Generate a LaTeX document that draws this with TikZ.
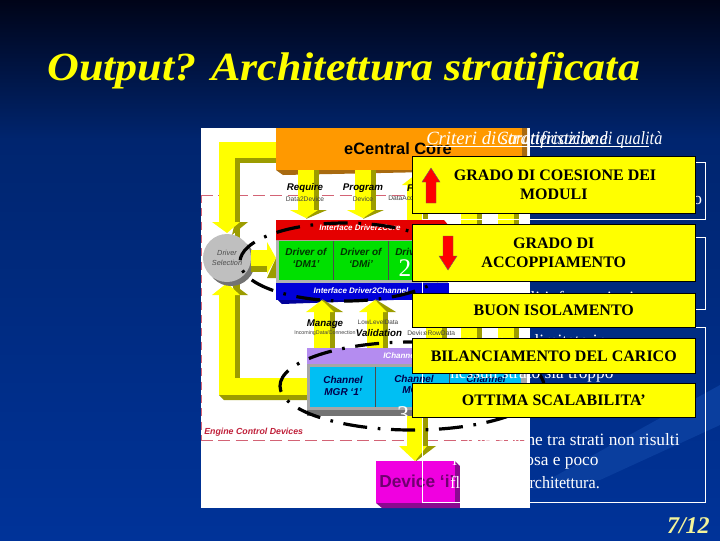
\documentclass[tikz,border=0pt]{standalone}
\usepackage{fontspec}
\setmainfont{Liberation Serif}
\setsansfont{Liberation Sans}
\definecolor{ybox}{HTML}{FFFF00}
\definecolor{oliv}{HTML}{9C9C00}
\definecolor{orng}{HTML}{FF9900}
\definecolor{orngd}{HTML}{A86A10}
\definecolor{grn}{HTML}{00E000}
\definecolor{cyn}{HTML}{00BFF3}
\definecolor{purp}{HTML}{B48CF0}
\definecolor{magn}{HTML}{F000E0}
\definecolor{magd}{HTML}{8A0A90}
\definecolor{devt}{HTML}{700070}
\definecolor{dred}{HTML}{C0203A}
\definecolor{bgtop}{HTML}{000418}
\definecolor{bgmid}{HTML}{00256F}
\definecolor{bgbot}{HTML}{003399}
\definecolor{band}{HTML}{0A3E9E}
\definecolor{pgno}{HTML}{F4F49A}
\tikzset{x=0.75pt,y=-0.75pt,
 fatline/.style={fill=ybox,draw=none},
 shade3/.style={fill=oliv,draw=none},
 ybx/.style={fill=ybox,draw=black,line width=0.8pt},
 yellowlabel/.style={font=\fontsize{12}{14.5}\selectfont\bfseries,align=center,text=black},
 tiny1/.style={font=\sffamily\fontsize{5}{6}\selectfont,text=black!75},
 lay/.style={font=\sffamily\bfseries\itshape\fontsize{7.5}{8.5}\selectfont,align=center,text=black!80},
 iface/.style={font=\sffamily\bfseries\itshape\fontsize{6}{7}\selectfont,text=white},
 opname/.style={font=\sffamily\bfseries\itshape\fontsize{7.3}{9}\selectfont,text=black},
 bodyt/.style={font=\fontsize{13}{16}\selectfont,text=white,anchor=west,inner sep=0pt},
 panel/.style={draw=white,line width=0.7pt},
 oval/.style={draw=black,line width=2.4pt,dash pattern=on 18pt off 8pt on 2pt off 8pt}
}
\newcommand{\fatdown}[4]{%
 \fill[shade3] (#1+8,#2) rectangle (#1+13,#3);
 \fill[shade3] (#1+8,#3) -- (#1+21,#3) -- (#1,#4) -- cycle;
 \fill[fatline] (#1-8,#2) rectangle (#1+8,#3);
 \fill[fatline] (#1-16,#3) -- (#1+12,#3) -- (#1,#4-1) -- cycle;}
\newcommand{\fatup}[4]{%
 \fill[shade3] (#1+8,#2) rectangle (#1+13,#3);
 \fill[shade3] (#1+8,#3) -- (#1+21,#3) -- (#1,#4) -- cycle;
 \fill[fatline] (#1-8,#2) rectangle (#1+8,#3);
 \fill[fatline] (#1-16,#3) -- (#1+12,#3) -- (#1,#4+1) -- cycle;}
\begin{document}
\begin{tikzpicture}
\useasboundingbox (0,0) rectangle (720,540);
\shade[top color=bgtop,bottom color=bgmid] (0,0) rectangle (720,140);
\shade[top color=bgmid,bottom color=bgbot] (0,140) rectangle (720,540);
\fill[band] (530,490) -- (720,385) -- (720,425) -- (600,480) -- cycle;

% title
\node[anchor=base west,inner sep=0pt,text=ybox,xscale=1.1,font=\fontsize{30}{32}\selectfont\bfseries\itshape] (title) at (47,80) {Output? Architettura stratificata};

% picture on a white sheet
\fill[white] (201,128) rectangle (530,508);

% red dashed region
\draw[dred!70,line width=0.7pt,dash pattern=on 9pt off 4pt] (201,195) -- (530,195);
\draw[dred!70,line width=0.7pt,dash pattern=on 9pt off 4pt] (201,440) -- (530,440);
\draw[dred!70,line width=0.7pt,dash pattern=on 6pt off 4pt] (201,195) -- (201,440);

% left yellow loop
\fill[shade3] (235,158) rectangle (240,378);
\fill[shade3] (219,395) -- (307,395) -- (307,400) -- (224,400) -- cycle;
\fill[shade3] (240,158) -- (276,158) -- (276,163) -- (240,163) -- cycle;
\fill[fatline] (219,142) rectangle (276,158);
\fill[fatline] (219,142) rectangle (235,222);
\fill[shade3] (235,222) -- (248,222) -- (232,235) -- cycle;
\fill[fatline] (212,222) -- (240,222) -- (227,233) -- cycle;
\fill[fatline] (219,295) rectangle (235,395);
\fill[fatline] (219,378) rectangle (307,395);
\fill[shade3] (235,295) -- (248,295) -- (232,283) -- cycle;
\fill[fatline] (212,295) -- (240,295) -- (227,283) -- cycle;

% top core
\fill[orngd] (276,128) -- (527,128) -- (527,170) -- (283,175) -- (276,170) -- cycle;
\fill[orng] (276,128) rectangle (522,170);
\node[font=\sffamily\bfseries\fontsize{12.3}{14}\selectfont,text=black,inner sep=0pt] (core) at (398,149) {eCentral Core};

% arrows core -> driver layer
\fatdown{306}{170}{210}{219}
\fatdown{363}{170}{210}{219}
\fill[shade3] (423,175) rectangle (428,240);
\fill[fatline] (407,185) rectangle (423,240);
\fill[fatline] (402,185) -- (428,185) -- (415,175) -- cycle;
\fill[shade3] (477,170) rectangle (482,238);
\fill[fatline] (461,170) rectangle (477,238);
\fill[shade3] (514,170) rectangle (519,238);
\fill[fatline] (498,170) rectangle (514,238);
\node[opname] (req) at (305,188) {Require};
\node[opname] (prog) at (363,188) {Program};
\node[tiny1] (d2d) at (305,199) {Data2Device};
\node[tiny1] (dev) at (363,199) {Device};
\node[tiny1,anchor=west,inner sep=0pt] (dac) at (388,199) {DataAcq};
\node[opname] (pf) at (410,188) {F};

% driver selection disc
\fill[black!55] (231,262) circle (24);
\fill[black!25] (227,258) circle (24);
\node[font=\sffamily\itshape\fontsize{5.5}{7}\selectfont,align=center,text=black!70,inner sep=0pt] (sel) at (227,258) {Driver\\Selection};
\fill[shade3] (251,265) rectangle (268,272);
\fill[fatline] (251,250) rectangle (268,266);
\fill[shade3] (267,278) -- (276,278) -- (276,258) -- cycle;
\fill[fatline] (267,242) -- (267,274) -- (276,258) -- cycle;

% driver layer
\fill[black!30] (276,238) rectangle (448,284);
\fill[red!90!black] (276,220) -- (444,220) -- (449,226) -- (449,240) -- (276,240) -- cycle;
\fill[grn] (279,241) rectangle (443,280);
\draw[black!70,line width=0.4pt] (333,241) -- (333,280) (388,241) -- (388,280);
\node[lay,text=green!20!black] (d1) at (306,258) {Driver of\\`DM1'};
\node[lay,text=green!20!black] (d2) at (361,258) {Driver of\\`DMi'};
\node[lay,text=green!20!black,anchor=west,inner sep=0pt] (d3) at (395,252) {Driver};
\node[font=\fontsize{19}{21}\selectfont,text=white,inner sep=0pt] (two) at (405,268) {2};
\fill[blue!60!black] (276,290) -- (444,290) -- (449,298) -- (282,304) -- (276,298) -- cycle;
\fill[blue!85!black] (276,283) rectangle (449,300);
\node[iface] (i1) at (360,227.5) {Interface Driver2Core};
\node[iface] (i2) at (361,290.5) {Interface Driver2Channel};

% arrows driver <- channel
\fatup{322}{348}{312}{299}
\fatup{375}{348}{312}{299}
\fill[shade3] (442,300) rectangle (447,348);
\fill[fatline] (426,300) rectangle (442,348);
\fill[shade3] (477,300) rectangle (482,348);
\fill[fatline] (461,300) rectangle (477,348);
\fill[shade3] (514,300) rectangle (519,348);
\fill[fatline] (498,300) rectangle (514,348);
\node[opname] (man) at (325,324) {Manage};
\node[tiny1,font=\sffamily\fontsize{4}{5}\selectfont] (inc) at (325,333) {IncomingData/Connection};
\node[tiny1,font=\sffamily\fontsize{4.8}{5}\selectfont] (low) at (378,322) {LowLevelData};
\node[opname] (val) at (379,333) {Validation};
\node[tiny1,anchor=west,inner sep=0pt] (drd) at (407,333) {DeviceRowData};

% channel layer
\fill[black!55] (307,400) rectangle (527,416);
\fill[black!35] (307,348) rectangle (527,410);
\fill[purp] (307,348) rectangle (527,364);
\fill[cyn] (310,367) rectangle (521,407);
\draw[black!70,line width=0.4pt] (375,367) -- (375,407) (449,367) -- (449,407);
\node[lay,text=blue!30!black] (c1) at (343,386) {Channel\\MGR `1'};
\node[lay,text=blue!30!black,anchor=north west,inner sep=0pt] (c2) at (394,375) {Channel\\MGR};
\node[lay,text=blue!30!black,anchor=north west,inner sep=0pt] (c3) at (466,375) {Channel};
\node[iface,anchor=west,inner sep=0pt] (i3) at (383,356) {IChannel};
\node[font=\fontsize{18}{20}\selectfont,text=white,inner sep=0pt] (three) at (403,415) {3};

% down to device
\fatdown{415}{416}{446}{462}

% device
\fill[magd] (376,461) -- (455,461) -- (460,466) -- (460,508) -- (382,508) -- (376,503) -- cycle;
\fill[magn] (376,461) rectangle (455,503);
\node[font=\sffamily\bfseries\fontsize{13}{15}\selectfont,text=devt,anchor=west,inner sep=0pt] (devi) at (379,481) {Device `i'};
\fill[white] (460,440.5) rectangle (530,508);
\node[font=\sffamily\bfseries\itshape\fontsize{6.6}{8}\selectfont,text=dred,anchor=west,inner sep=0pt] (ecd) at (204,432) {Engine Control Devices};

% dash-dot ovals
\draw[oval] (345,262) ellipse (105 and 39);
\draw[oval] (412,386) ellipse (132 and 44);

% overprinted headings
\node[anchor=base west,inner sep=0pt,text=white,font=\fontsize{14}{16}\selectfont\itshape] (h1) at (426,144) {Criteri di stratificazione};
\node[anchor=base west,inner sep=0pt,text=white,xscale=0.87,font=\fontsize{14}{16}\selectfont\itshape] (h2) at (497,144) {Caratteristiche di qualità};
\draw[white,line width=0.7pt] (426,146) -- (649,146);

% text panels
\draw[panel] (422,162) rectangle (705,219);
\draw[panel] (422,237) rectangle (705,309);
\draw[panel] (422,327) rectangle (705,502);
\node[bodyt] (b0) at (693,200) {o};
\node[bodyt] (b1) at (462,297) {che i livelli informazioni};
\node[bodyt] (b2) at (450,341) {il carico sia limitato in};
\node[bodyt] (b3) at (450,375) {nessun strato sia troppo};
\node[bodyt] (b4) at (455,440) {l'interazione tra strati non risulti};
\node[bodyt] (b5) at (452,461) {lenta, onerosa e poco};
\node[bodyt,xscale=0.93] (b6) at (450,483) {flessibile l'architettura.};

% yellow boxes
\node[ybx,minimum width=283.5*0.75pt,minimum height=57*0.75pt,inner sep=0pt,yellowlabel,anchor=north west] (y1) at (411.5,156) {\hspace*{2pt}GRADO DI COESIONE DEI\\MODULI};
\node[ybx,minimum width=283.5*0.75pt,minimum height=57*0.75pt,inner sep=0pt,yellowlabel,anchor=north west] (y2) at (411.5,224) {GRADO DI\\ACCOPPIAMENTO};
\node[ybx,minimum width=283.5*0.75pt,minimum height=33.5*0.75pt,inner sep=0pt,yellowlabel,anchor=north west] (y3) at (411.5,293) {BUON ISOLAMENTO};
\node[ybx,minimum width=283.5*0.75pt,minimum height=34.5*0.75pt,inner sep=0pt,yellowlabel,anchor=north west] (y4) at (411.5,338) {BILANCIAMENTO DEL CARICO};
\node[ybx,minimum width=283.5*0.75pt,minimum height=34*0.75pt,inner sep=0pt,yellowlabel,anchor=north west] (y5) at (411.5,383) {OTTIMA SCALABILITA'};
\fill[red,draw=black!60,line width=0.3pt] (422,182) -- (431,168) -- (440,182) -- (436,182) -- (436,203) -- (426,203) -- (426,182) -- cycle;
\fill[red,draw=black!60,line width=0.3pt] (439,256) -- (448,270) -- (457,256) -- (453,256) -- (453,236) -- (443,236) -- (443,256) -- cycle;

% page number
\node[anchor=base east,inner sep=0pt,text=pgno,font=\fontsize{18}{20}\selectfont\bfseries\itshape] (pg) at (710,533) {7/12};
\end{tikzpicture}
\end{document}
